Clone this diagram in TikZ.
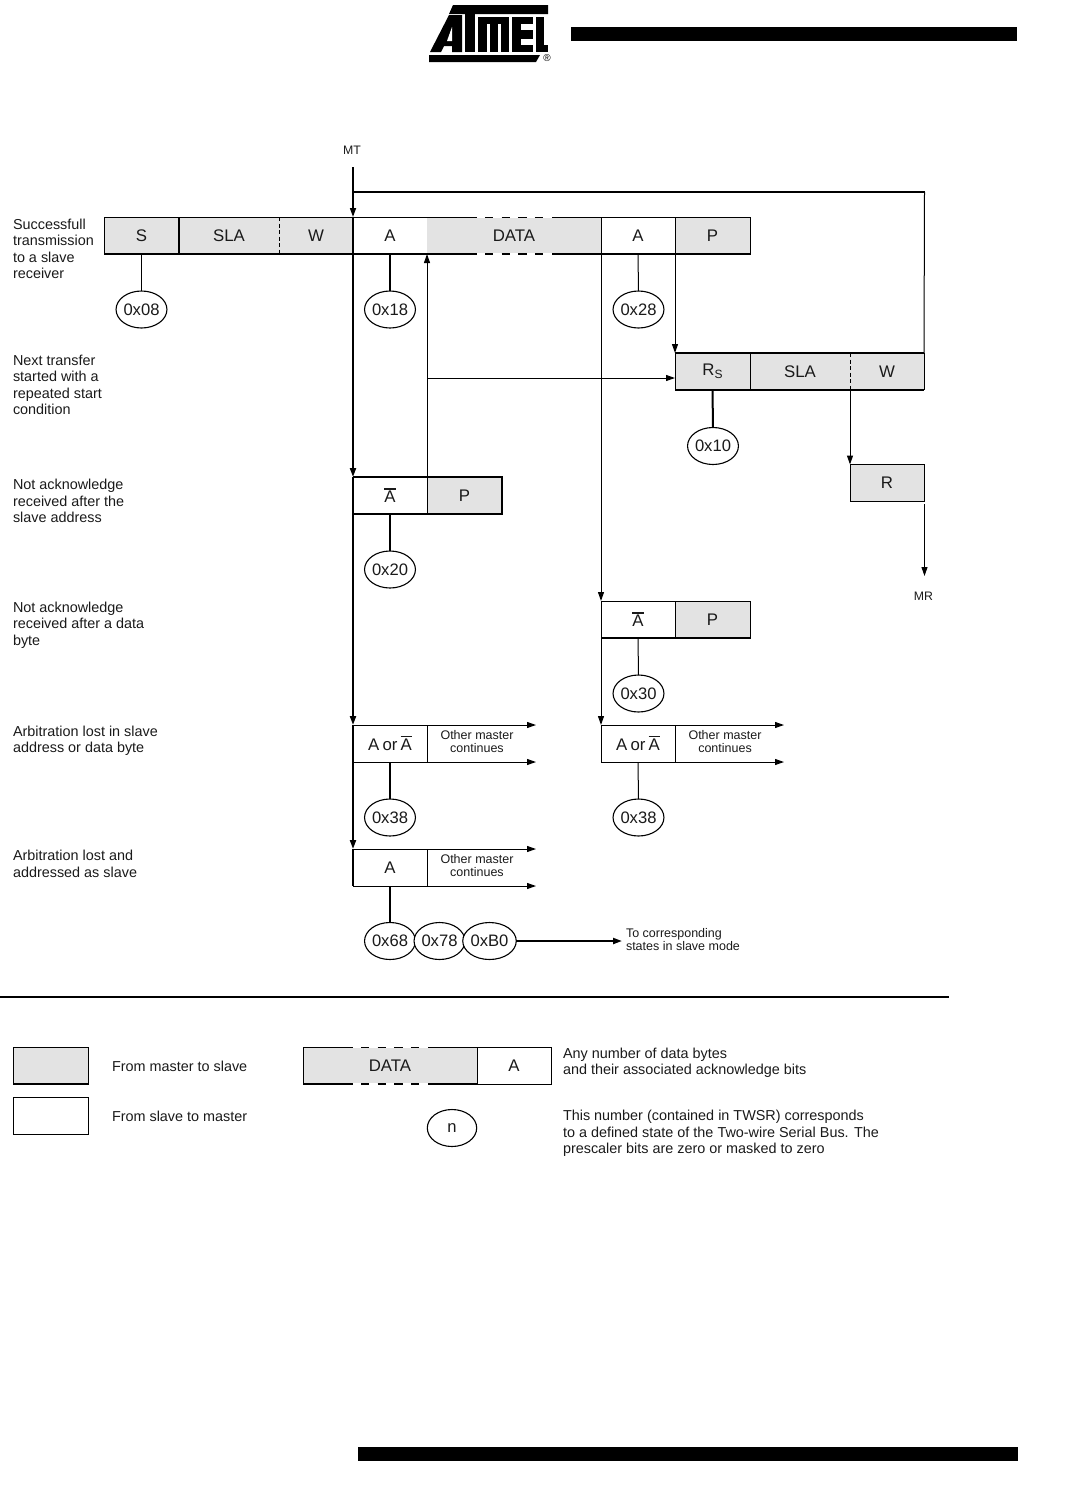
\documentclass[tikz,border=0pt]{standalone}
\usepackage{fontspec}
\setmainfont{Liberation Sans}
\usetikzlibrary{shapes.geometric,arrows.meta}
\definecolor{cellgrey}{HTML}{E3E3E3}
\definecolor{ink}{HTML}{1A1A1A}
\newcommand{\barA}{\leavevmode\rlap{\rule[13pt]{11.2pt}{1.1pt}}A}
\newcommand{\AorA}{A\hspace{3.2pt}or\hspace{3.2pt}\barA}
\newcommand{\mkcell}[7][]{\node[cellnode,#1,minimum width={(#5-#3)*1pt},minimum height={(#6-#4)*1pt}] (#2) at ({(#3+#5)/2},{(#4+#6)/2}) {\raisebox{0.1pt}{#7}};}
\newcommand{\omc}{\begin{tabular}{@{}c@{}}Other master\\[-0.4pt]continues\end{tabular}}
\tikzset{
  cellnode/.style={inner sep=0pt,outer sep=0pt,font=\fontsize{16.8}{18}\selectfont,text=ink},
  ruled/.style={draw=black,line width=1pt},
  grey/.style={fill=cellgrey},
  stateel/.style={ellipse,draw=black,line width=1.1pt,inner sep=0pt,outer sep=0pt,minimum width=49.4pt,minimum height=37pt,fill=white,font=\fontsize{16.6}{18}\selectfont,text=ink},
  lbl/.style={anchor=west,align=left,inner sep=0pt,outer sep=0pt,text=ink,font=\fontsize{14.4}{16.5}\selectfont},
  small/.style={align=center,inner sep=0pt,outer sep=0pt,text=ink,font=\fontsize{12.5}{14}\selectfont},
  omcfont/.style={font=\fontsize{12.5}{14}\selectfont},
  thinline/.style={line width=1pt},
  heavy/.style={line width=2pt},
  arr/.style={-{Triangle[length=9pt,width=6pt]}},
  arrthin/.style={thinline,arr},
  arrheavy/.style={heavy,arr},
  dashpart/.style={dash pattern=on 8.3pt off 8.3pt},
  logo/.style={fill=black,draw=none}
}
\begin{document}
\begin{tikzpicture}[x=1pt,y=-1pt]
\useasboundingbox (0,0) rectangle (1087,1500);
% header and footer bars
\fill (571,27) rectangle (1017,41);
\fill (358,1447) rectangle (1018,1461);
% logo
\fill[logo] (453,5)--(548,5)--(548,14)--(449,14)--cycle;
\fill[logo] (430,52)--(449,15)--(462,15)--(462,52)--(452,52)--(452,46)--(444,46)--(441,52)--cycle;
\fill[white] (452,27)--(452,41)--(447,41)--cycle;
\fill[logo] (465,14) rectangle (475,52);
\fill[logo] (478,17) rectangle (509,52);
\fill[white] (486.5,24) rectangle (489.5,52);
\fill[white] (497.5,24) rectangle (500.5,52);
\fill[logo] (512,17) rectangle (533,52);
\fill[white] (521,24) rectangle (533,30);
\fill[white] (521,39) rectangle (533,45);
\fill[logo] (536,17) rectangle (544,52);
\fill[logo] (544,45) rectangle (548,52);
\fill[logo] (429,55)--(540,55)--(536,62)--(429,62)--cycle;
\node[inner sep=0pt,font=\fontsize{10}{10}\selectfont] (reg) at (547,58) {®};

% row 1
\mkcell[grey,ruled]{rS}{104}{217}{179}{254}{S}
\mkcell[grey]{rSLA}{179}{217}{279}{254}{SLA}
\mkcell[grey]{rW}{279}{217}{353}{254}{W}
\mkcell[fill=white,ruled]{rA}{353}{217}{427}{254}{A}
\mkcell[grey]{rDATA}{427}{217}{601}{254}{DATA}
\mkcell[fill=white,ruled]{rAb}{601}{217}{675}{254}{A}
\mkcell[grey,ruled]{rP}{675}{217}{750}{254}{P}
\draw[thinline] (rS.north east)--(rA.north west);
\draw[thinline] (rA.north east)--(477,217) (552,217)--(rAb.north west);
\fill[white] (477,216) rectangle (552,218);
\draw[thinline,dashpart] (485,217)--(544,217);
\draw[heavy] (rS.south west)--(477,254) (552,254)--(rP.south east);
\fill[white] (477,253) rectangle (552,255);
\draw[heavy,dashpart] (485,254)--(544,254);
\draw[line width=1.6pt] (rS.north east)--(rS.south east);
\draw[thinline,dash pattern=on 4pt off 2.5pt] (rSLA.north east)--(rSLA.south east);
% row Rs
\mkcell[grey]{qR}{675}{353}{750}{390}{R\raisebox{-3pt}{\fontsize{12}{12}\selectfont S}}
\mkcell[grey]{qSLA}{750}{353}{850}{390}{SLA}
\mkcell[grey]{qW}{850}{353}{924}{390}{W}
\draw[heavy] (qR.north west)--(qW.north east);
\draw[heavy] (qR.south west)--(qW.south east);
\draw[thinline] (qR.north west)--(qR.south west) (qR.north east)--(qR.south east) (qW.north east)--(qW.south east);
\draw[thinline,dash pattern=on 4pt off 2.5pt] (qSLA.north east)--(qSLA.south east);
\mkcell[grey,ruled]{bR}{850}{464.5}{924}{501.5}{R}
% not ack 1
\mkcell[fill=white,ruled]{nA}{353}{477}{427}{514}{\barA}
\mkcell[grey,ruled]{nP}{427}{477}{502}{514}{P}
\draw[heavy] (nA.south west)--(nP.south east);
\draw[line width=1.4pt] (nA.north west)--(nP.north east)--(nP.south east);
% not ack 2
\mkcell[fill=white,ruled]{mA}{601}{601}{675}{638}{\barA}
\mkcell[grey,ruled]{mP}{675}{601}{750}{638}{P}
\draw[heavy] (mA.south west)--(mP.south east);
% arbitration
\mkcell{lA}{353}{725}{427}{762}{\AorA}
\mkcell[omcfont]{lO}{427}{725}{527}{761}{\omc}
\mkcell{kA}{601}{725}{675}{762}{\AorA}
\mkcell[omcfont]{kO}{675}{725}{775}{761}{\omc}
\mkcell{hA}{353}{849}{427}{886}{A}
\mkcell[omcfont]{hO}{427}{849}{527}{885}{\omc}
\coordinate (lTe) at (536,725); \coordinate (lBe) at (536,762);
\coordinate (kTe) at (784,725); \coordinate (kBe) at (784,762);
\coordinate (hTe) at (536,849); \coordinate (hBe) at (536,886);
\draw[arrthin] (lA.north west)--(lTe);
\draw[arrthin] (lA.south west)--(lBe);
\draw[thinline] (lA.north east)--(lA.south east);
\draw[arrthin] (kA.north west)--(kTe);
\draw[arrthin] (kA.south west)--(kBe);
\draw[thinline] (kA.north east)--(kA.south east) (kA.north west)--(kA.south west);
\draw[arrthin] (hA.north west)--(hTe);
\draw[arrthin] (hA.south west)--(hBe);
\draw[thinline] (hA.north east)--(hA.south east);
% states
\node[stateel] (s08) at (141.5,309.5) {0x08};
\node[stateel] (s18) at (390,309.5) {0x18};
\node[stateel] (s28) at (638.5,309.5) {0x28};
\node[stateel] (s10) at (713,446) {0x10};
\node[stateel] (s20) at (390,569.5) {0x20};
\node[stateel] (s30) at (638.5,693.5) {0x30};
\node[stateel] (s38a) at (390,817.5) {0x38};
\node[stateel] (s38b) at (638.5,817.5) {0x38};
\node[stateel] (s68) at (390,941) {0x68};
\node[stateel] (s78) at (439.5,941) {0x78};
\node[stateel] (sB0) at (489.5,941) {0xB0};
\draw[thinline] (rS.south)--(s08.north);
\draw[heavy] (rA.south)--(s18.north);
\draw[thinline] (rAb.south)--(s28.north);
\draw[heavy] (qR.south)--(s10.north);
\draw[heavy] (nA.south)--(s20.north);
\draw[thinline] (mA.south)--(s30.north);
\draw[heavy] (lA.south)--(s38a.north);
\draw[thinline] (kA.south)--(s38b.north);
\draw[heavy] (hA.south)--(s68.north);
% flow
\node[inner sep=0pt,outer sep=0pt,text=ink,font=\fontsize{12.3}{14}\selectfont] (mt) at (352,150.5) {MT};
\coordinate (mtStart) at (353,167);
\coordinate (loopA) at (353,192);
\coordinate (loopB) at (924.5,192);
\node[inner sep=0pt,outer sep=0pt,text=ink,font=\fontsize{12.3}{14}\selectfont] (mr) at (923.5,596.5) {MR};
\coordinate (mrEnd) at (924.5,576);
\coordinate (bRout) at (924.5,504);
\draw[arrheavy,line width=1.6pt] (mtStart)--(rA.north west);
\draw[line width=1.6pt] (loopA)--(loopB);
\draw[thinline] (loopB)--(qW.north east);
\draw[heavy] (rA.north west)--(rA.south west);
\draw[arrheavy] (rA.south west)--(nA.north west);
\draw[heavy] (nA.north west)--(nA.south west);
\draw[arrheavy] (nA.south west)--(lA.north west);
\draw[heavy] (lA.north west)--(lA.south west);
\draw[arrheavy] (lA.south west)--(hA.north west);
\draw[heavy] (hA.north west)--(hA.south west);
\draw[arrthin] (nA.north east)--(rDATA.south west);
\coordinate (jn) at (427,378);
\draw[arrthin] (jn)--(qR.west |- jn);
\draw[arrthin] (rAb.south west)--(mA.north west);
\draw[arrthin] (mA.south west)--(kA.north west);
\draw[arrthin] (rP.south west)--(qR.north west);
\draw[arrthin] (qSLA.south east)--(bR.north west);
\draw[arrthin] (bRout)--(mrEnd);
\node[small,anchor=west] (tocorr) at (626,941) {\begin{tabular}{@{}l@{}}To corresponding\\[-0.4pt]states in slave mode\end{tabular}};
\coordinate (toEnd) at (622,941);
\draw[heavy,arr] (sB0.east)--(toEnd);
% left labels
\node[lbl] (l1) at (13,249) {Successfull\\transmission\\to a slave\\receiver};
\node[lbl] (l2) at (13,385) {Next transfer\\started with a\\repeated start\\condition};
\node[lbl] (l3) at (13,501) {Not acknowledge\\received after the\\slave address};
\node[lbl] (l4) at (13,625) {Not acknowledge\\received after a data\\byte};
\node[lbl] (l5) at (13,741) {Arbitration lost in slave\\address or data byte};
\node[lbl] (l6) at (13,864) {Arbitration lost and\\addressed as slave};
% separator
\coordinate (sepL) at (0,997); \coordinate (sepR) at (949,997);
\draw[line width=1.5pt] (sepL)--(sepR);
% legend
\mkcell[grey,ruled]{k1}{13}{1047}{88}{1084}{}
\draw[heavy] (k1.south west)--(k1.south east);
\mkcell[ruled]{k2}{13}{1097}{88}{1134}{}
\node[lbl] (k1t) at (112,1066.5) {From master to slave};
\node[lbl] (k2t) at (112,1116.5) {From slave to master};
\mkcell[grey]{kD}{303}{1047}{477}{1084}{DATA}
\mkcell[ruled,fill=white]{kAk}{477}{1047}{551}{1084}{A}
\draw[thinline] (kD.north west)--(353,1047) (428,1047)--(kD.north east);
\fill[white] (353,1046) rectangle (428,1048);
\draw[thinline,dashpart] (361,1047)--(420,1047);
\draw[heavy] (kD.south west)--(353,1084) (428,1084)--(kD.south east);
\fill[white] (353,1083) rectangle (428,1085);
\draw[heavy,dashpart] (361,1084)--(420,1084);
\draw[thinline] (kD.north west)--(kD.south west);
\node[stateel] (kn) at (452,1128) {n};
\node[lbl] (kt1) at (563,1063) {Any number of data bytes\\and their associated acknowledge bits};
\node[lbl] (kt2) at (563,1133.5) {This number (contained in TWSR) corresponds\\to a defined state of the Two-wire Serial Bus. The\\prescaler bits are zero or masked to zero};
\end{tikzpicture}
\end{document}
